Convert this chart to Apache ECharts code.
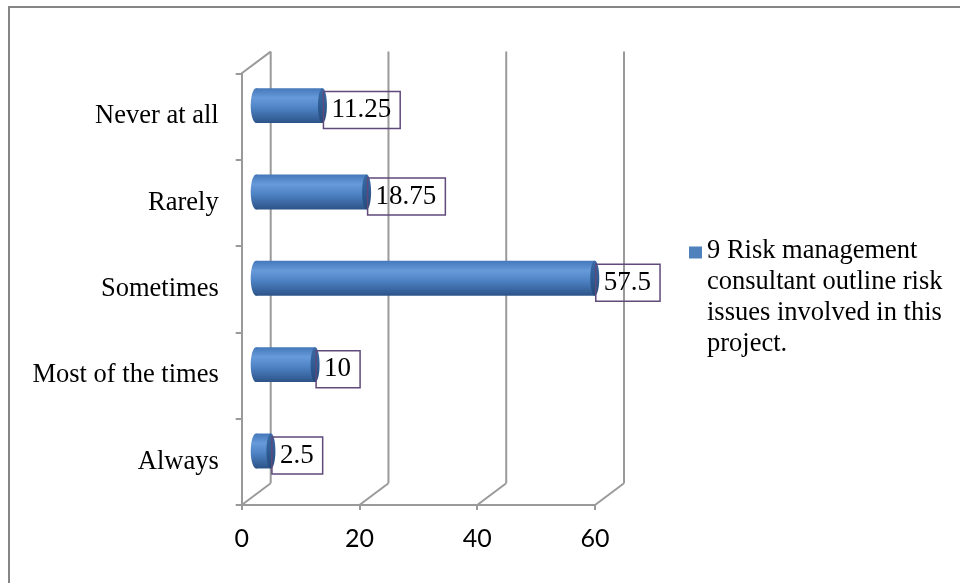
<!DOCTYPE html>
<html>
<head>
<meta charset="utf-8">
<script src="https://cdn.jsdelivr.net/npm/echarts@6/dist/echarts.min.js"></script>
<style>
  html, body { margin: 0; padding: 0; background: #ffffff; }
  #main { width: 960px; height: 583px; }
</style>
</head>
<body>
<div id="main"></div>
<script>
// data
var categories = ['Always', 'Most of the times', 'Sometimes', 'Rarely', 'Never at all'];
var values = [2.5, 10, 57.5, 18.75, 11.25];
var xTicks = [0, 20, 40, 60];
var seriesName = '9 Risk management consultant outline risk issues involved in this project.';
var legendLines = ['9 Risk management', 'consultant outline risk', 'issues involved in this', 'project.'];

// depth of the fake 3d box
var DX = 29, DY = -21.7;
var serif = 'Liberation Serif, Times New Roman, serif';

var myChart = echarts.init(document.getElementById('main'));

var bodyColor = new echarts.graphic.LinearGradient(0, 0, 0, 1, [
    { offset: 0, color: '#4478ba' },
    { offset: 0.28, color: '#679ad9' },
    { offset: 0.55, color: '#4f84c6' },
    { offset: 1, color: '#2c5388' }
]);
var capColor = new echarts.graphic.LinearGradient(0, 0, 0, 1, [
    { offset: 0, color: '#3a6aa6' },
    { offset: 0.5, color: '#2f5c94' },
    { offset: 1, color: '#244a7a' }
]);

// back walls and floor lines
function renderWalls(params, api) {
    var v = api.value(0);
    var bandH = api.size([0, 1])[1];
    var bottom = api.coord([v, 0])[1] + bandH / 2;
    var top = api.coord([v, categories.length - 1])[1] - bandH / 2;
    var x = api.coord([v, 0])[0];
    var st = { stroke: '#9a9a9a', lineWidth: 2 };
    var kids = [
        { type: 'line', shape: { x1: x, y1: bottom, x2: x + DX, y2: bottom + DY }, style: st },
        { type: 'line', shape: { x1: x + DX, y1: bottom + DY, x2: x + DX, y2: top + DY }, style: st }
    ];
    if (v === 0) {
        kids.push({ type: 'line', shape: { x1: x, y1: top, x2: x + DX, y2: top + DY }, style: st });
    }
    return { type: 'group', children: kids };
}

// cylinder bars with boxed labels
function renderBars(params, api) {
    var idx = api.value(0);
    var val = api.value(1);
    var bandH = api.size([0, 1])[1];
    var h = bandH * 0.405;
    var ox = DX / 2, oy = DY / 2;
    var end = api.coord([val, idx]);
    var start = api.coord([0, idx]);
    var x0 = start[0] + ox, x1 = end[0] + ox, cy = end[1] + oy;
    var rx = 4.5;
    return {
        type: 'group',
        children: [
            { type: 'ellipse', shape: { cx: x0, cy: cy, rx: rx + 1, ry: h / 2 }, style: { fill: bodyColor } },
            { type: 'rect', shape: { x: x0, y: cy - h / 2, width: x1 - x0, height: h }, style: { fill: bodyColor } },
            { type: 'ellipse', shape: { cx: x1, cy: cy, rx: rx, ry: h / 2 }, style: { fill: capColor } },
            {
                type: 'text',
                z2: 10,
                style: {
                    x: x1 + 1, y: cy + 4.5,
                    text: String(values[idx]),
                    font: '27px ' + serif,
                    fill: '#000000',
                    align: 'left',
                    verticalAlign: 'middle',
                    borderColor: '#604a7b',
                    borderWidth: 1.5,
                    padding: [6, 9, 4, 8]
                }
            }
        ]
    };
}

var option = {
    backgroundColor: '#ffffff',
    animation: false,
    grid: { left: 241.7, right: 365, top: 73.3, bottom: 78 },
    xAxis: {
        type: 'value',
        min: 0,
        max: 60,
        interval: 20,
        axisLine: { show: true, lineStyle: { color: '#9a9a9a', width: 2 } },
        axisTick: { show: true, length: 5, lineStyle: { color: '#9a9a9a', width: 2 } },
        splitLine: { show: false },
        axisLabel: { color: '#000000', fontFamily: 'Lato, Liberation Sans, sans-serif', fontSize: 25, margin: 21 }
    },
    yAxis: {
        type: 'category',
        data: categories,
        axisLine: { show: true, lineStyle: { color: '#9a9a9a', width: 2 } },
        axisTick: { show: true, length: 6, lineStyle: { color: '#9a9a9a', width: 2 } },
        axisLabel: { color: '#000000', fontFamily: serif, fontSize: 26.5, margin: 23 }
    },
    series: [{
        type: 'custom',
        name: 'walls',
        silent: true,
        renderItem: renderWalls,
        data: xTicks.map(function (t) { return [t]; }),
        z: 1
    }, {
        type: 'custom',
        name: seriesName,
        renderItem: renderBars,
        data: values.map(function (v, i) { return [i, v]; }),
        encode: { x: 1, y: 0 },
        z: 2
    }],
    graphic: [{
        type: 'polyline',
        shape: { points: [[9, 583], [9, 7], [960, 7]] },
        style: { stroke: '#868686', lineWidth: 2, fill: null }
    }, {
        type: 'rect',
        shape: { x: 689, y: 246.5, width: 13, height: 12 },
        style: { fill: '#4f81bd' }
    }, {
        type: 'text',
        x: 707,
        y: 236,
        style: {
            text: legendLines.join('\n'),
            font: '26.5px ' + serif,
            lineHeight: 31,
            fill: '#000000',
            verticalAlign: 'top'
        }
    }]
};
myChart.setOption(option);
</script>
</body>
</html>
